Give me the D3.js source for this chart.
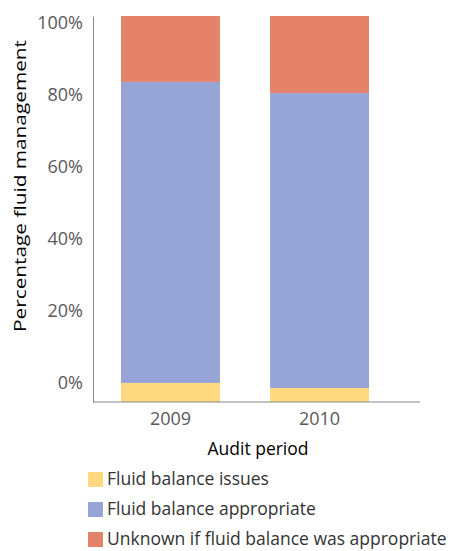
<!DOCTYPE html>
<html><head><meta charset="utf-8">
<script src="https://cdn.jsdelivr.net/npm/d3@7"></script>
<style>body{margin:0;background:#fff;font-family:"Open Sans",sans-serif}</style>
</head><body><div id="container"></div>
<script>
const periods = ['2009', '2010']
const seriesNames = ['Fluid balance issues', 'Fluid balance appropriate', 'Unknown if fluid balance was appropriate']
const issues = [5.3, 3.9]
const appropriate = [83.6, 81.9]
const unknown = [18.3, 21.4]
const tickValues = [0, 20, 40, 60, 80, 100]
const colors = ['#FFD97F', '#97A5D6', '#E4826A']
const base = -5.3

const svg = d3.select('#container').append('svg').attr('width', 470).attr('height', 551)

const y = d3.scaleLinear().domain([base, 101.9]).range([402, 16])
const x = d3.scaleBand().domain(periods).range([121, 369]).paddingInner(0.336).paddingOuter(0)

const rows = periods.map((p, i) => ({ period: p, a: issues[i], b: appropriate[i], c: unknown[i] }))
const layers = d3.stack().keys(['a', 'b', 'c'])(rows)

svg.selectAll('g.layer').data(layers).join('g').attr('fill', (d, i) => colors[i])
  .selectAll('rect').data(d => d).join('rect')
  .attr('x', d => x(d.data.period)).attr('width', x.bandwidth())
  .attr('y', d => y(d[1] + base)).attr('height', d => y(d[0] + base) - y(d[1] + base))

// axes
const yAxis = svg.append('g').attr('transform', 'translate(93,0)')
  .call(d3.axisLeft(y).tickValues(tickValues).tickFormat(d => d + '%').tickSize(0).tickPadding(10))
yAxis.select('.domain').attr('stroke', '#888')
yAxis.selectAll('text').attr('font-size', 18).attr('fill', '#595959').attr('font-family', 'Open Sans')

const xAxis = svg.append('g').attr('transform', `translate(0,${y(base)})`)
  .call(d3.axisBottom(x).tickSize(0).tickPadding(10))
xAxis.select('.domain').remove()
xAxis.append('line').attr('x1', 93).attr('x2', 420).attr('stroke', '#888')
xAxis.selectAll('text').attr('font-size', 18).attr('fill', '#595959').attr('font-family', 'Open Sans')

svg.append('text').attr('x', 258).attr('y', 455).attr('text-anchor', 'middle')
  .attr('font-size', 17.5).text('Audit period')
svg.append('text').attr('transform', 'translate(26,186) rotate(-90)').attr('text-anchor', 'middle')
  .attr('font-size', 17).attr('textLength', 292).attr('lengthAdjust', 'spacingAndGlyphs')
  .text('Percentage fluid management')

// legend
const lg = svg.selectAll('g.lg').data(seriesNames).join('g')
  .attr('transform', (d, i) => `translate(88,${472 + i * 30})`)
lg.append('rect').attr('width', 15).attr('height', 15).attr('fill', (d, i) => colors[i])
lg.append('text').attr('x', 19).attr('y', 13).attr('font-size', 17.5).attr('fill', '#333').text(d => d)
</script></body></html>
